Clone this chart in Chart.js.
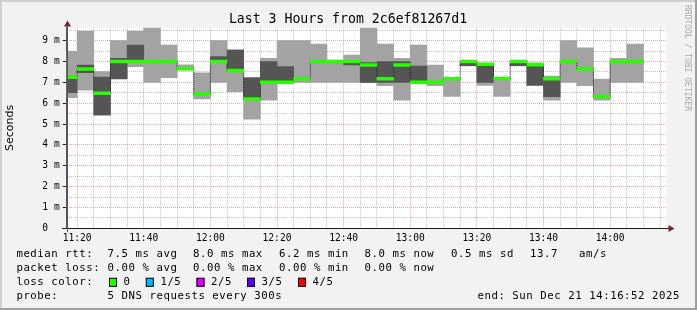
<!DOCTYPE html>
<html>
<head>
<meta charset="utf-8">
<script src="https://cdn.jsdelivr.net/npm/chart.js@4.4.1/dist/chart.umd.min.js"></script>
<style>
  html, body { margin: 0; padding: 0; background: #f2f2f2; }
</style>
</head>
<body>
<canvas id="canvas" width="697" height="310"></canvas>
<script>
// 5 minute steps (start time of each step)
const stepStart = ['11:15', '11:20', '11:25', '11:30', '11:35', '11:40', '11:45', '11:50', '11:55',
  '12:00', '12:05', '12:10', '12:15', '12:20', '12:25', '12:30', '12:35', '12:40', '12:45', '12:50', '12:55',
  '13:00', '13:05', '13:10', '13:15', '13:20', '13:25', '13:30', '13:35', '13:40', '13:45', '13:50', '13:55',
  '14:00', '14:05'];

// sorted ping rtt per step, in ms
const pingMin = [6.26, 6.63, 5.42, 7.15, 7.75, 7.00, 7.22, 7.60, 6.20, 7.00, 6.55, 5.23, 6.15, 6.97, 7.00, 7.00, 7.00, 7.00,
  6.98, 6.84, 6.15, 6.97, 6.84, 6.32, 7.79, 6.85, 6.32, 7.79, 6.84, 6.15, 7.00, 6.84, 6.15, 7.00, 7.00];
const ping2 = [6.50, 7.46, 5.44, 7.17, 7.98, 7.98, 7.98, 7.62, 6.42, 7.98, 7.54, 6.18, 6.98, 6.98, 7.14, 7.97, 7.99, 7.83,
  7.00, 7.00, 7.00, 6.98, 6.98, 7.15, 7.80, 7.00, 7.16, 7.80, 6.86, 6.31, 7.98, 7.62, 6.30, 7.98, 7.98];
const median = [7.25, 7.64, 6.48, 8.00, 8.00, 8.00, 8.00, 7.65, 6.44, 8.00, 7.56, 6.20, 7.00, 7.00, 7.16, 8.00, 8.00, 8.00,
  7.83, 7.17, 7.83, 7.00, 7.00, 7.17, 8.00, 7.87, 7.18, 8.00, 7.85, 7.17, 8.00, 7.64, 6.32, 8.00, 8.00];
const ping4 = [7.30, 7.83, 7.25, 8.15, 8.79, 8.02, 8.02, 7.68, 6.46, 8.23, 8.55, 7.22, 7.99, 7.75, 7.18, 8.02, 8.01, 8.02,
  7.95, 8.00, 8.00, 7.78, 7.02, 7.18, 8.01, 7.88, 7.20, 8.01, 7.87, 7.18, 8.02, 7.66, 6.34, 8.02, 8.02];
const pingMax = [8.49, 9.46, 7.51, 9.00, 9.46, 9.62, 8.79, 7.84, 7.46, 9.00, 8.56, 7.23, 8.15, 9.00, 9.00, 8.84, 8.02, 8.31,
  9.62, 8.84, 8.15, 8.79, 7.83, 7.19, 8.02, 7.89, 7.21, 8.02, 7.88, 7.30, 9.00, 8.65, 7.16, 8.15, 8.84];

const xTickLabels = ['11:20', '11:40', '12:00', '12:20', '12:40', '13:00', '13:20', '13:40', '14:00'];
const yTickLabels = ['0', '1 m', '2 m', '3 m', '4 m', '5 m', '6 m', '7 m', '8 m', '9 m'];
const rangeStart = '11:16:52';
const rangeEnd = '14:16:52';

const statRows = [
  ['median rtt:', '7.5 ms avg', '8.0 ms max', '6.2 ms min', '8.0 ms now', '0.5 ms sd', '13.7', 'am/s'],
  ['packet loss:', '0.00 % avg', '0.00 % max', '0.00 % min', '0.00 % now']
];
const lossLabels = ['0', '1/5', '2/5', '3/5', '4/5'];
const lossColors = ['#26ff00', '#00b8ff', '#dd00ff', '#5e00ff', '#ff0000'];
const probeText = '5 DNS requests every 300s';
const endText = 'end: Sun Dec 21 14:16:52 2025';
const titleText = 'Last 3 Hours from 2c6ef81267d1';

const toMin = (t) => {
  const p = t.split(':').map(Number);
  return p[0] * 60 + p[1] + (p[2] || 0) / 60;
};
const STEP = 5;
const mono = '"DejaVu Sans Mono", monospace';

const barData = (lo, hi) => stepStart.map((t, i) => ({ x: toMin(t) + STEP / 2, y: [lo[i], hi[i]] }));
const medianLine = [];
stepStart.forEach((t, i) => {
  medianLine.push({ x: toMin(t), y: median[i] });
  medianLine.push({ x: toMin(t) + STEP, y: median[i] });
});

const barCommon = { type: 'bar', grouped: false, barPercentage: 1, categoryPercentage: 1, borderWidth: 0, clip: 0 };

const majorX = (v) => Math.round(v) % 20 === 0;
const majorY = (v) => Number.isInteger(v);
const gridMinor = 'rgba(143,143,143,0.55)';
const gridMajor = 'rgba(222,79,79,0.5)';

const smokeFrame = {
  id: 'smokeFrame',
  beforeDraw(chart) {
    const ctx = chart.ctx, a = chart.chartArea;
    ctx.save();
    ctx.fillStyle = '#f2f2f2';
    ctx.fillRect(0, 0, chart.width, chart.height);
    ctx.fillStyle = '#ffffff';
    ctx.fillRect(a.left, a.top, a.right - a.left, a.bottom - a.top);
    ctx.restore();
  },
  afterDraw(chart) {
    const ctx = chart.ctx, a = chart.chartArea;
    const W = chart.width, H = chart.height;
    ctx.save();
    // axis extensions and arrows
    ctx.strokeStyle = '#1f1f1f';
    ctx.lineWidth = 1;
    ctx.beginPath();
    ctx.moveTo(62, Math.round(a.bottom) + 0.5);
    ctx.lineTo(669, Math.round(a.bottom) + 0.5);
    ctx.stroke();
    ctx.strokeStyle = '#555';
    ctx.beginPath();
    ctx.moveTo(Math.round(a.left) + 0.5, 24);
    ctx.lineTo(Math.round(a.left) + 0.5, a.bottom + 4);
    ctx.stroke();
    ctx.fillStyle = '#801f1f';
    const yb = Math.round(a.bottom) + 0.5;
    ctx.beginPath();
    ctx.moveTo(668.5, yb - 3.5); ctx.lineTo(674.5, yb); ctx.lineTo(668.5, yb + 3.5); ctx.closePath(); ctx.fill();
    const xl = Math.round(a.left) + 0.5;
    ctx.beginPath();
    ctx.moveTo(xl - 3.5, 26.5); ctx.lineTo(xl, 20.5); ctx.lineTo(xl + 3.5, 26.5); ctx.closePath(); ctx.fill();

    // title
    ctx.fillStyle = '#000';
    ctx.font = '13.2px ' + mono;
    ctx.textAlign = 'center';
    ctx.textBaseline = 'middle';
    ctx.fillText(titleText, 348, 19.5);

    // watermark
    ctx.save();
    ctx.translate(687, 5);
    ctx.rotate(Math.PI / 2);
    ctx.font = '8px ' + mono;
    ctx.fillStyle = '#a8a8a8';
    ctx.textAlign = 'left';
    ctx.fillText('RRDTOOL / TOBI OETIKER', 0, 0);
    ctx.restore();

    // legend
    ctx.font = '10.7px ' + mono;
    if ('letterSpacing' in ctx) ctx.letterSpacing = '0.55px';
    ctx.fillStyle = '#000';
    ctx.textAlign = 'left';
    const rowY = [254.7, 268.3, 282.3, 296];
    const colX = [16.4, 107.6, 193, 279, 364.5, 451, 530, 579];
    statRows.forEach((row, r) => {
      row.forEach((txt, c) => ctx.fillText(txt, colX[c], rowY[r]));
    });
    ctx.fillText('loss color:', 16.4, rowY[2]);
    const boxX = [109, 145.8, 196.5, 247, 298];
    lossLabels.forEach((lbl, i) => {
      ctx.fillStyle = lossColors[i];
      ctx.fillRect(boxX[i], rowY[2] - 4.5, 8, 9);
      ctx.strokeStyle = '#000';
      ctx.strokeRect(boxX[i] + 0.5, rowY[2] - 4.5 + 0.5, 7, 8);
      ctx.fillStyle = '#000';
      ctx.fillText(lbl, boxX[i] + 14.6, rowY[2]);
    });
    ctx.fillText('probe:', 16.4, rowY[3]);
    ctx.fillText(probeText, 107.6, rowY[3]);
    ctx.textAlign = 'right';
    ctx.fillText(endText, 680, rowY[3]);
    if ('letterSpacing' in ctx) ctx.letterSpacing = '0px';

    // 3d frame
    ctx.fillStyle = '#cfcfcf';
    ctx.fillRect(0, 0, W, 2);
    ctx.fillRect(0, 0, 2, H);
    ctx.fillStyle = '#9e9e9e';
    ctx.fillRect(0, H - 2, W, 2);
    ctx.fillRect(W - 2, 0, 2, H);
    ctx.restore();
  }
};

const ctx = document.getElementById('canvas').getContext('2d');
const myChart = new Chart(ctx, {
  type: 'bar',
  data: {
    datasets: [
      Object.assign({}, barCommon, { label: 'median', data: barData(median.map(v => v - 0.07), median.map(v => v + 0.07)), backgroundColor: '#26ff00', order: 0 }),
      { type: 'line', label: 'median step', data: medianLine, borderColor: '#1a1a1a', borderWidth: 1, borderDash: [1, 1],
        pointRadius: 0, tension: 0, fill: false, clip: 0, order: 1 },
      Object.assign({}, barCommon, { label: 'smoke inner', data: barData(ping2, ping4), backgroundColor: '#555555', order: 2 }),
      Object.assign({}, barCommon, { label: 'smoke outer', data: barData(pingMin, pingMax), backgroundColor: '#a3a3a3', order: 3 })
    ]
  },
  options: {
    responsive: false,
    animation: false,
    events: [],
    layout: { padding: { top: 27.7, left: 0, right: 30.7, bottom: 0 } },
    plugins: { legend: { display: false }, tooltip: { enabled: false }, title: { display: false } },
    scales: {
      x: {
        type: 'linear',
        offset: false,
        min: toMin(rangeStart),
        max: toMin(rangeEnd),
        z: 1,
        afterBuildTicks(scale) {
          const ticks = [];
          for (let v = toMin(xTickLabels[0]); v < scale.max; v += STEP) ticks.push({ value: v });
          scale.ticks = ticks;
        },
        afterFit(scale) { scale.height = 310 - 228.3; },
        grid: {
          offset: false,
          drawTicks: false,
          color: (c) => (c.tick && majorX(c.tick.value) ? gridMajor : gridMinor),
          lineWidth: 1
        },
        border: { display: true, color: '#1f1f1f', width: 1, dash: [1, 1] },
        ticks: {
          autoSkip: false,
          maxRotation: 0,
          padding: 4,
          color: '#000',
          font: { family: mono, size: 9.6 },
          callback: (v) => {
            const hit = xTickLabels.find(l => Math.abs(toMin(l) - v) < 0.01);
            return hit || '';
          }
        }
      },
      y: {
        type: 'linear',
        min: 0,
        max: 9.62,
        z: 1,
        afterBuildTicks(scale) {
          const ticks = [];
          for (let v = 0; v < scale.max; v += 0.5) ticks.push({ value: v });
          scale.ticks = ticks;
        },
        afterFit(scale) { scale.width = 66.7; },
        grid: {
          color: (c) => (c.tick && majorY(c.tick.value) ? gridMajor : gridMinor),
          lineWidth: 1,
          drawTicks: true,
          tickLength: 4,
          tickColor: (c) => (c.tick && majorY(c.tick.value) ? '#1f1f1f' : 'rgba(0,0,0,0)')
        },
        border: { display: true, color: '#555', width: 1, dash: [1, 1] },
        title: {
          display: true,
          text: 'Seconds',
          color: '#000',
          font: { family: '"DejaVu Sans", sans-serif', size: 11 },
          padding: { top: 3.4, bottom: 0 }
        },
        ticks: {
          autoSkip: false,
          padding: 3,
          color: '#000',
          font: { family: mono, size: 9.6 },
          callback: (v) => (majorY(v) ? yTickLabels[v].padEnd(3, ' ') : '')
        }
      }
    }
  },
  plugins: [smokeFrame]
});
</script>
</body>
</html>
